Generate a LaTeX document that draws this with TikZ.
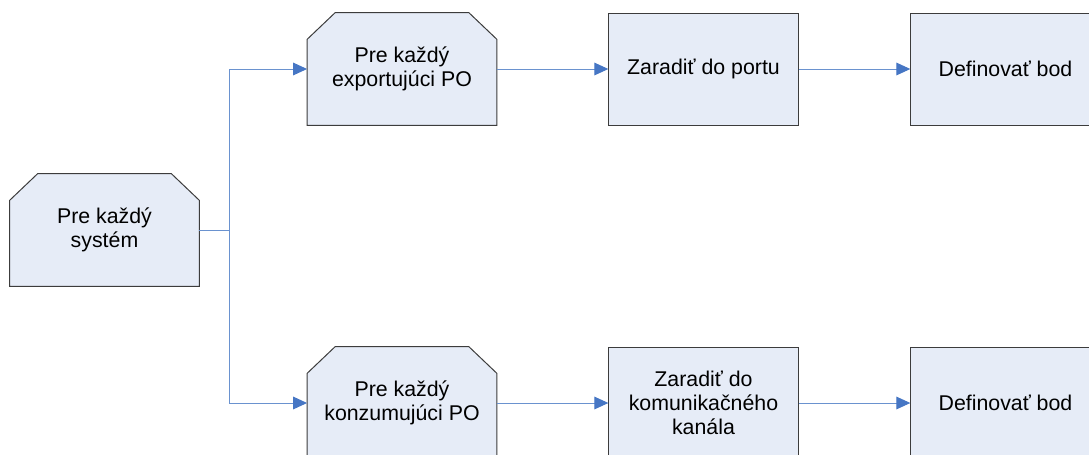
\documentclass[tikz,border=0pt]{standalone}
\usepackage{fontspec}
\setmainfont{Liberation Sans}
\usetikzlibrary{arrows.meta,backgrounds}

\definecolor{colorFill}{HTML}{E6ECF7}
\definecolor{colorLink}{HTML}{6A92CF}
\definecolor{colorTip}{HTML}{4676C4}
\definecolor{colorBorder}{HTML}{3C3C3C}
\tikzset{
   every path/.style={>={Triangle[length=10.5pt,width=9.5pt,color=colorTip]}},
   txt/.style={font=\fontsize{16}{18}\selectfont,align=center},
   task/.style={txt,draw=colorBorder,fill=colorFill,line width=0.75pt,
     rectangle,minimum width=142pt,minimum height=84pt,inner sep=2pt},
   loopbox/.style={txt,rectangle,minimum width=142pt,minimum height=84pt,inner sep=2pt},
   frame/.style={draw=colorBorder,fill=colorFill,line width=0.75pt},
   link/.style={->,color=colorLink,line width=0.75pt},
   trunk/.style={color=colorLink,line width=0.75pt},
}
\newcommand{\dlink}[2]{\draw[link] (#1) edge (#2)}
\newcommand{\dloop}[1]{\draw[frame] (#1.south west) -- ([yshift=-20pt]#1.north west)
   -- ([xshift=21pt]#1.north west) -- ([xshift=-21pt]#1.north east)
   -- ([yshift=-20pt]#1.north east) -- (#1.south east) -- cycle}

\begin{document}
\begin{tikzpicture}[x=0.75pt,y=-0.75pt]
      \path[use as bounding box] (0,0) rectangle (1089,454);
      \clip (0,0) rectangle (1089,454);

      \node[loopbox] (Sys) at (104.5,230) {Pre každý\\systém};

      \node[loopbox] (Exp) at (402,69) {Pre každý\\exportujúci PO};
      \node[task] (Port) at (703.5,69) {Zaradiť do portu};
      \node[task] (DefA) at (1005.5,69) {Definovať bod};
      \dlink{Exp}{Port};
      \dlink{Port}{DefA};

      \node[loopbox] (Con) at (402,403) {Pre každý\\konzumujúci PO};
      \node[task] (Kanal) at (703.5,403) {Zaradiť do\\komunikačného\\kanála};
      \node[task] (DefB) at (1005.5,403) {Definovať bod};
      \dlink{Con}{Kanal};
      \dlink{Kanal}{DefB};

      \coordinate (Fork) at (229,230);
      \draw[trunk] (Sys.east) -- (Fork);
      \draw[link] (Fork) |- (Exp.west);
      \draw[link] (Fork) |- (Con.west);

      % chamfered loop frames behind the text
      \begin{scope}[on background layer]
        \dloop{Sys};
        \dloop{Exp};
        \dloop{Con};
      \end{scope}
    \end{tikzpicture}
\end{document}
